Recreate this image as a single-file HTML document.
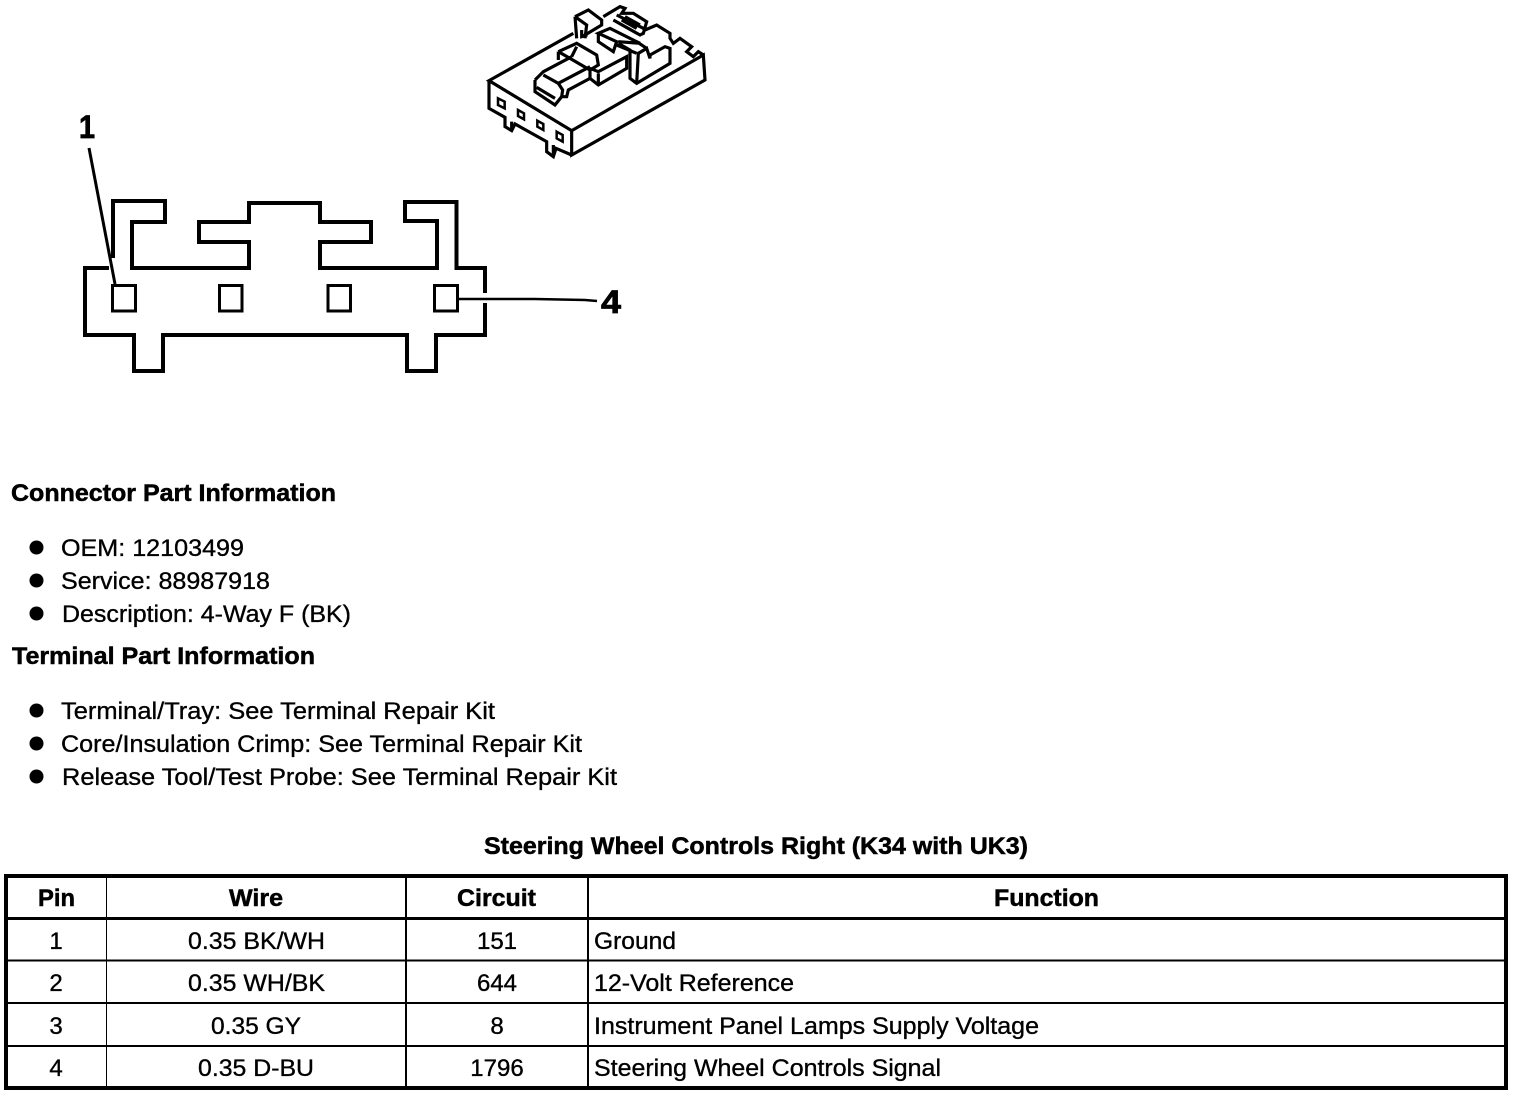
<!DOCTYPE html>
<html><head><meta charset="utf-8"><style>
html,body{margin:0;padding:0;background:#fff;width:1520px;height:1096px;overflow:hidden}
svg{display:block}
text{font-family:"Liberation Sans",Arial,sans-serif;font-size:24px;fill:#000;stroke:#000;stroke-width:.35}
.b{font-weight:bold;stroke-width:.5}
</style></head><body>
<svg xmlns="http://www.w3.org/2000/svg" width="1520" height="1096" viewBox="0 0 1520 1096">
<!-- isometric connector -->
<g transform="translate(470,0) scale(.33333)" fill="none" stroke="#000" stroke-width="9.500" stroke-linejoin="miter">
<path d="M310,100L57,242L305,392L700,165L705,240L305,465L305,392"/>
<path d="M57,242L57,325L105,352L105,380L125,392L135,372L230,425L230,455L250,470L258,445L305,465"/>
<path d="M125,365L125,392M250,435L250,470"/>
<path d="M195,240L220,215L305,170M220,225L265,250L278,270L275,290L255,315L195,275L195,240M200,262L255,295M275,290L290,290L295,270L360,235M265,250L360,200"/>
<path d="M265,155L265,180M265,155L320,130L380,165L385,195L360,210L300,175L265,155M305,170L320,140M360,205L360,235L385,255L470,205L470,170L385,215L360,205M385,220L385,255"/>
<path d="M315,50L355,30L395,60L395,75L340,108M315,50L350,75L345,115M315,50L320,115M335,90L335,110L352,105"/>
<path d="M385,100L385,125L430,155L440,125L385,100L420,85L510,130L445,125"/>
<path d="M445,130L480,150L480,235L500,250L600,190L600,145L585,140L540,165L540,175L530,145L505,160L500,250M440,135L500,160M500,125L530,145"/>
<path d="M400,50L450,20L465,25L455,40L490,40L530,65L520,100L510,105L430,60M440,45L520,85M455,60L500,85M465,50L510,75"/>
<path d="M525,90L560,75L600,100L600,115L610,130L630,115L665,140L650,155L670,170L685,155L700,165"/>
<path d="M84,295L104,305L104,325L84,315ZM144,330L162,340L162,358L144,348ZM202,362L220,372L220,390L202,380ZM260,395L278,405L278,425L260,415Z" stroke-width="7.500"/>
</g>
<!-- connector end view -->
<g fill="none" stroke="#000" stroke-width="4" stroke-linejoin="miter">
<path d="M109,268H85V335H134V371H163V335H407V371H436V335H485V303M485,293V268H456.5V202H405V221H437V268H320V242H371V222H320V203H249V222H199V242H249V268H132V222H165V201H113V258"/>
<rect x="112.500" y="285.500" width="23" height="25.500" stroke-width="3"/>
<rect x="219.500" y="285.500" width="22.500" height="25.500" stroke-width="3"/>
<rect x="328" y="285.500" width="22.500" height="25.500" stroke-width="3"/>
<rect x="434.500" y="285.500" width="23" height="25.500" stroke-width="3"/>
<path d="M89,148L115,284" stroke-width="3"/>
<path d="M458,299L535,299L585,300L597,301" stroke-width="2.400"/>
</g>
<text x="79" y="138" class="b" style="font-size:32px;stroke-width:.8" textLength="16" lengthAdjust="spacingAndGlyphs">1</text>
<text x="601" y="313" class="b" style="font-size:32px;stroke-width:.8" textLength="20" lengthAdjust="spacingAndGlyphs">4</text>
<!-- part info -->
<text x="11" y="501" class="b" textLength="325" lengthAdjust="spacingAndGlyphs">Connector Part Information</text>
<g><circle cx="36.500" cy="547.500" r="7"/><circle cx="36.500" cy="580.500" r="7"/><circle cx="36.500" cy="613.500" r="7"/><circle cx="36.500" cy="710.500" r="7"/><circle cx="36.500" cy="743.500" r="7"/><circle cx="36.500" cy="776.500" r="7"/></g>
<text x="61" y="556" textLength="183" lengthAdjust="spacingAndGlyphs">OEM: 12103499</text>
<text x="61" y="589" textLength="209" lengthAdjust="spacingAndGlyphs">Service: 88987918</text>
<text x="62" y="622" textLength="289" lengthAdjust="spacingAndGlyphs">Description: 4-Way F (BK)</text>
<text x="12" y="664" class="b" textLength="303" lengthAdjust="spacingAndGlyphs">Terminal Part Information</text>
<text x="61" y="719" textLength="434" lengthAdjust="spacingAndGlyphs">Terminal/Tray: See Terminal Repair Kit</text>
<text x="61" y="752" textLength="521" lengthAdjust="spacingAndGlyphs">Core/Insulation Crimp: See Terminal Repair Kit</text>
<text x="62" y="785" textLength="555" lengthAdjust="spacingAndGlyphs">Release Tool/Test Probe: See Terminal Repair Kit</text>
<text x="484" y="854" class="b" textLength="544" lengthAdjust="spacingAndGlyphs">Steering Wheel Controls Right (K34 with UK3)</text>
<!-- table -->
<g fill="none" stroke="#000" shape-rendering="crispEdges">
<rect x="6" y="876" width="1500" height="212" stroke-width="4"/>
<path d="M6,918.500H1506" stroke-width="3"/>
<path d="M6,960.500H1506M6,1003H1506M6,1046H1506" stroke-width="2"/>
<path d="M106.500,876V1088" stroke-width="1"/>
<path d="M406,876V1088M588,876V1088" stroke-width="2"/>
</g>
<text x="38" y="906" class="b" textLength="37" lengthAdjust="spacingAndGlyphs">Pin</text>
<text x="229" y="906" class="b" textLength="54" lengthAdjust="spacingAndGlyphs">Wire</text>
<text x="457" y="906" class="b" textLength="79" lengthAdjust="spacingAndGlyphs">Circuit</text>
<text x="994" y="906" class="b" textLength="105" lengthAdjust="spacingAndGlyphs">Function</text>
<text x="56" y="949" text-anchor="middle">1</text><text x="56" y="991" text-anchor="middle">2</text><text x="56" y="1034" text-anchor="middle">3</text><text x="56" y="1076" text-anchor="middle">4</text>
<text x="188" y="949" textLength="137" lengthAdjust="spacingAndGlyphs">0.35 BK/WH</text>
<text x="188" y="991" textLength="137" lengthAdjust="spacingAndGlyphs">0.35 WH/BK</text>
<text x="211" y="1034" textLength="90" lengthAdjust="spacingAndGlyphs">0.35 GY</text>
<text x="198" y="1076" textLength="116" lengthAdjust="spacingAndGlyphs">0.35 D-BU</text>
<text x="497" y="949" text-anchor="middle">151</text><text x="497" y="991" text-anchor="middle">644</text><text x="497" y="1034" text-anchor="middle">8</text><text x="497" y="1076" text-anchor="middle">1796</text>
<text x="594" y="949" textLength="82" lengthAdjust="spacingAndGlyphs">Ground</text>
<text x="594" y="991" textLength="200" lengthAdjust="spacingAndGlyphs">12-Volt Reference</text>
<text x="594" y="1034" textLength="445" lengthAdjust="spacingAndGlyphs">Instrument Panel Lamps Supply Voltage</text>
<text x="594" y="1076" textLength="347" lengthAdjust="spacingAndGlyphs">Steering Wheel Controls Signal</text>
</svg>
</body></html>
